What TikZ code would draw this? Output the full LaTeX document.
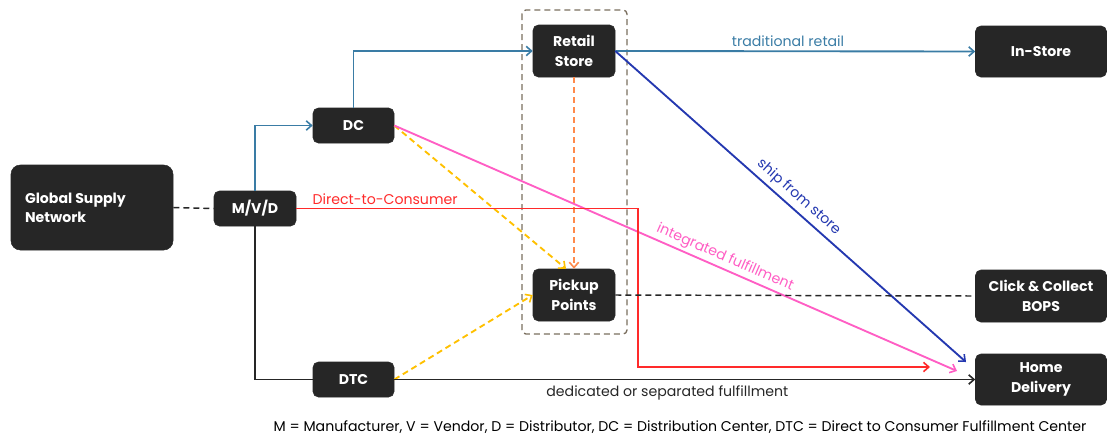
\documentclass[tikz,border=0pt]{standalone}
\usepackage{fontspec}
\setmainfont{Poppins}
\usetikzlibrary{arrows.meta}
\definecolor{nodefill}{HTML}{262626}
\definecolor{cblue}{HTML}{3A7CA5}
\definecolor{cdblue}{HTML}{2438B0}
\definecolor{cpink}{HTML}{FF5EC4}
\definecolor{cred}{HTML}{FF2A2A}
\definecolor{cyellow}{HTML}{FFC000}
\definecolor{corange}{HTML}{FF8A4C}
\definecolor{cbox}{HTML}{7A6E5E}
\definecolor{cdark}{HTML}{262626}
\begin{document}
\begin{tikzpicture}[x=0.75pt,y=-0.75pt,
  box/.style={fill=nodefill, draw=nodefill, rounded corners=4pt, text=white,
    font=\bfseries\fontsize{10.6}{14.5}\selectfont, align=center, inner sep=0pt},
  conn/.style={line width=1.4pt},
  dsh/.style={dash pattern=on 4.5pt off 3pt},
  tip/.style={-{Straight Barb[length=4pt,width=7pt,line width=1.2pt]}},
  lab/.style={font=\fontsize{10.6}{12}\selectfont, inner sep=1pt}
]
\useasboundingbox (0,0) rectangle (1107,440);
% group box
\draw[cbox, dsh, line width=1pt, rounded corners=3pt] (522,10) rectangle (627,334);
% nodes
\node[box, minimum width=121.5pt, minimum height=63.75pt, rounded corners=7pt] (gsn) at (92,207.5) {};
\node[anchor=west, text=white, font=\bfseries\fontsize{10.6}{14.5}\selectfont, align=left, inner sep=0pt] (gsnt) at ([xshift=10.5pt]gsn.west) {Global Supply\\Network};
\node[box, minimum width=61.5pt, minimum height=26.25pt] (mvd) at (255,208.5) {M/V/D};
\node[box, minimum width=60.75pt, minimum height=26.25pt] (dc) at (353.5,125.5) {DC};
\node[box, minimum width=60.75pt, minimum height=26.25pt] (dtc) at (353.5,379.5) {DTC};
\node[box, minimum width=61.5pt, minimum height=39pt] (rs) at (574,51) {Retail\\Store};
\node[box, minimum width=61.5pt, minimum height=39pt] (pp) at (574,295) {Pickup\\Points};
\node[box, minimum width=98.25pt, minimum height=38.25pt] (ins) at (1041,51.5) {In-Store};
\node[box, minimum width=98.25pt, minimum height=39pt] (cc) at (1041,296) {Click \& Collect\\BOPS};
\node[box, minimum width=98.25pt, minimum height=38.25pt] (hd) at (1041,379.5) {Home\\Delivery};
% coordinates
\coordinate (redturn1) at (638,208.5);
\coordinate (redturn2) at (638,367);
\coordinate (redend) at (930,367);
\coordinate (pinkend) at (957,371);
\coordinate (dbend) at (966,362);
% connectors
\draw[conn, cdark, dsh, line width=1.1pt] (gsn.east) -- (mvd.west);
\draw[conn, cblue, tip] (mvd.north) |- (dc.west);
\draw[conn, cblue, tip] (dc.north) |- (rs.west);
\draw[conn, cblue, tip] (rs.east) -- node[lab, above=2pt, pos=0.48] {traditional retail} (ins.west);
\draw[conn, cdblue, tip] (rs.east) -- node[lab, sloped, above=2pt, pos=0.5] {ship from store} (dbend);
\draw[conn, corange, dsh, tip] (rs.south) -- (pp.north);
\draw[conn, cyellow, dsh, tip] (dc.east) -- ([xshift=-6]pp.north);
\draw[conn, cyellow, dsh, tip] (dtc.east) -- (pp.west);
\draw[conn, cpink, tip] (dc.east) -- node[lab, sloped, above=1pt, pos=0.58] {integrated fulfillment} (pinkend);
\draw[conn, cred, tip] (mvd.east) -- node[lab, above=1pt, pos=0.26] {Direct-to-Consumer} (redturn1) -- (redturn2) -- (redend);
\draw[conn, cdark] (mvd.south) |- (dtc.west);
\draw[conn, cdark, tip] (dtc.east) -- node[lab, below=3pt, pos=0.47] {dedicated or separated fulfillment} (hd.west);
\draw[conn, cdark, dsh, line width=1.1pt] (pp.east) -- (cc.west);
% footnote
\node[lab] (foot) at (680,427) {M = Manufacturer, V = Vendor, D = Distributor, DC = Distribution Center, DTC = Direct to Consumer Fulfillment Center};
\end{tikzpicture}
\end{document}
